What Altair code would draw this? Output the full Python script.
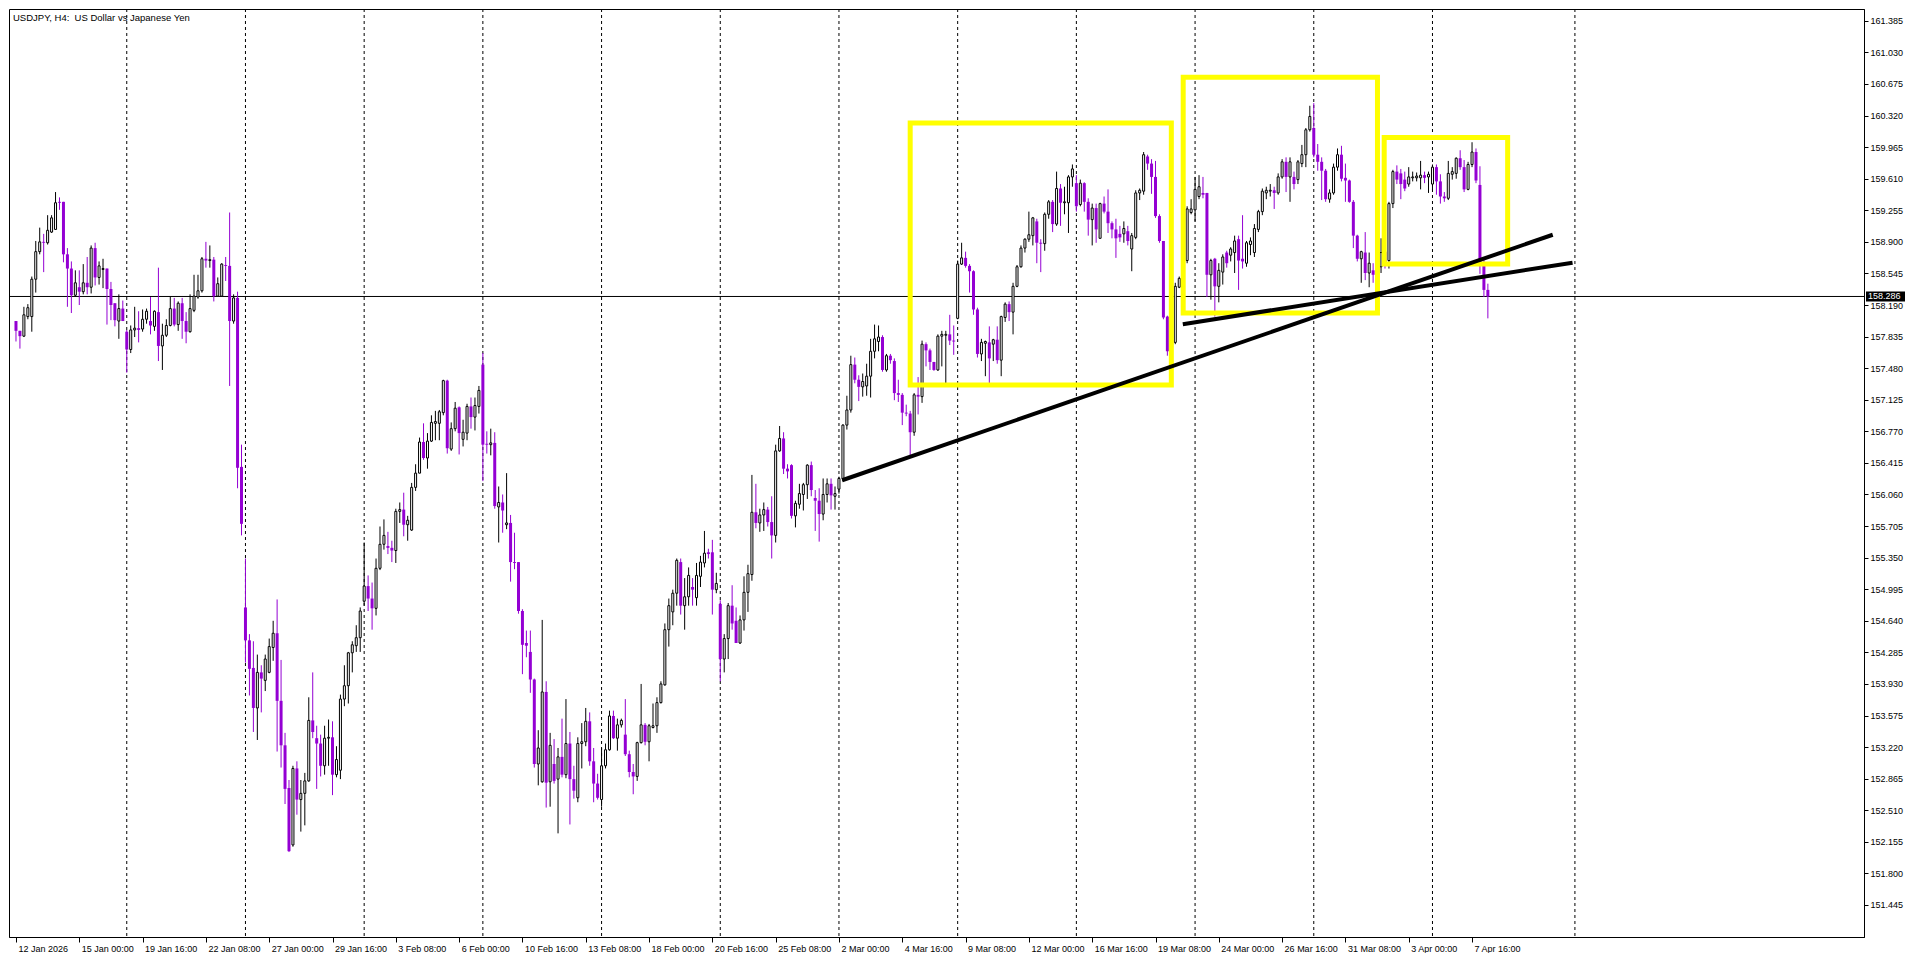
import altair as alt
import pandas as pd

# ---------------- data ----------------
FIRST_INDEX = 2  # bar index (H4 bars counted from 12 Jan 2026 00:00)

opens = [
158.01,157.90,157.84,158.06,158.06,158.48,158.79,158.90,158.89,159.01,
159.04,159.35,159.35,158.76,158.60,158.30,158.39,158.34,158.44,158.39,
158.83,158.50,158.59,158.60,158.37,158.21,158.01,158.15,157.89,157.69,
157.91,157.93,157.92,158.03,158.01,157.95,158.11,157.73,157.85,157.96,
158.15,157.97,158.21,158.01,157.89,158.13,158.28,158.35,158.71,158.69,
158.70,158.29,158.29,158.64,158.63,158.01,158.27,156.37,154.79,154.42,
154.11,153.66,154.06,153.97,154.06,154.34,154.50,153.74,153.24,152.76,
152.12,152.98,152.63,152.70,152.84,153.52,153.32,153.26,153.01,153.32,
153.33,152.91,152.96,153.76,153.91,154.28,154.36,154.45,154.86,155.03,
154.89,154.78,155.23,155.50,155.48,155.46,155.43,155.87,155.89,155.72,
155.66,156.14,156.30,156.65,156.47,156.66,156.86,156.86,156.98,157.34,
156.57,156.80,157.04,156.68,156.75,157.05,156.93,157.05,157.52,156.63,
156.62,156.64,155.92,155.97,155.72,155.74,155.30,155.30,154.75,154.39,
154.29,153.98,153.03,152.83,153.84,152.83,153.03,152.86,153.11,152.91,
153.26,152.86,152.65,153.26,153.28,153.51,153.06,152.81,152.63,153.01,
153.19,153.57,153.32,153.47,153.36,153.14,152.94,152.89,153.27,153.47,
153.28,153.44,153.46,153.72,153.92,154.54,154.74,154.95,155.30,154.81,
154.91,155.02,154.90,155.14,155.29,155.41,155.41,154.99,154.83,154.21,
154.44,154.81,154.64,154.39,154.65,154.96,155.16,155.86,155.74,155.83,
155.89,155.75,155.60,156.55,156.69,156.35,156.39,155.82,155.95,156.06,
156.17,156.39,156.02,155.99,155.84,156.06,156.18,156.04,156.12,156.24,
156.84,157.01,157.52,157.35,157.27,157.28,157.39,157.67,157.78,157.83,
157.46,157.62,157.56,157.20,157.18,156.98,156.97,156.76,157.18,157.16,
157.75,157.68,157.55,157.46,157.84,157.85,157.86,157.79,158.04,158.65,
158.72,158.63,158.57,158.14,157.64,157.76,157.77,157.75,157.80,157.57,
158.05,158.20,158.11,158.40,158.62,158.83,158.93,158.97,159.13,158.89,
158.88,159.21,159.35,159.10,159.50,159.34,159.34,159.63,159.56,159.32,
159.56,159.35,159.15,159.28,158.94,159.33,159.24,159.11,159.04,158.99,
158.99,159.02,158.82,158.95,159.45,159.47,159.86,159.78,159.63,159.19,
158.91,158.06,157.63,157.77,158.39,158.47,158.69,159.23,159.26,159.41,
159.45,159.45,158.53,158.71,158.40,158.56,158.78,158.75,158.78,158.93,
158.71,158.66,158.87,158.78,159.04,159.24,159.45,159.47,159.48,159.45,
159.63,159.80,159.63,159.63,159.60,159.78,159.88,160.16,160.18,159.88,
159.80,159.70,159.38,159.45,159.74,159.88,159.62,159.59,159.35,158.97,
158.71,158.78,158.55,158.58,158.51,158.62,158.79,158.69,159.33,159.69,
159.67,159.60,159.55,159.62,159.62,159.62,159.65,159.63,159.55,159.74,
159.58,159.41,159.39,159.66,159.67,159.84,159.74,159.49,159.77,159.91,
159.54,158.66,158.36]

highs = [
158.01,157.90,158.17,158.20,158.51,158.91,159.06,158.99,159.20,159.20,
159.46,159.40,159.35,158.83,158.68,158.58,158.58,158.65,158.73,158.86,
158.89,158.68,158.71,158.60,158.45,158.21,158.31,158.24,157.91,157.96,
158.17,158.12,158.14,158.15,158.28,158.13,158.61,157.98,158.03,158.28,
158.27,158.23,158.27,158.11,158.31,158.53,158.53,158.73,158.90,158.86,
158.73,158.50,158.66,158.73,159.23,158.31,158.34,156.62,155.34,154.49,
154.41,154.26,154.14,154.26,154.44,154.64,154.88,154.20,153.38,152.85,
153.01,153.06,152.85,152.93,153.78,154.06,153.46,153.36,153.46,153.53,
153.51,153.23,153.81,154.14,154.29,154.41,154.59,154.79,155.52,155.15,
155.07,155.34,155.70,155.78,155.64,155.54,155.90,155.97,156.08,155.82,
156.19,156.40,156.70,156.86,156.75,156.95,157.00,157.01,157.35,157.35,
156.87,157.10,157.05,156.90,157.08,157.15,157.15,157.28,157.65,156.77,
156.80,156.76,156.15,156.06,156.30,155.83,155.63,155.30,154.77,154.53,
154.53,153.99,153.41,154.65,153.96,153.38,153.31,153.21,153.54,153.76,
153.39,153.01,153.33,153.49,153.66,153.61,153.21,152.92,153.21,153.26,
153.63,153.63,153.54,153.54,153.76,153.18,153.03,153.28,153.93,153.49,
153.48,153.71,153.78,153.96,154.61,154.89,154.99,155.34,155.34,155.12,
155.24,155.12,155.29,155.37,155.65,155.45,155.55,155.18,154.87,154.49,
154.84,155.04,154.79,154.70,155.14,155.27,156.28,156.18,155.90,155.97,
155.92,156.04,156.62,156.83,156.76,156.40,156.40,155.99,156.18,156.19,
156.40,156.43,156.11,156.13,156.24,156.24,156.24,156.15,156.26,156.85,
157.17,157.62,157.60,157.40,157.42,157.53,157.81,157.97,157.96,157.85,
157.64,157.64,157.59,157.35,157.20,157.07,157.00,157.20,157.38,157.79,
157.77,157.70,157.55,157.86,157.90,157.90,158.08,157.96,158.69,158.89,
158.79,158.65,158.58,158.16,157.81,157.79,157.95,157.81,157.95,158.07,
158.22,158.23,158.44,158.64,158.86,158.94,159.24,159.18,159.16,158.93,
159.23,159.37,159.37,159.69,159.55,159.52,159.65,159.77,159.65,159.60,
159.57,159.39,159.33,159.33,159.34,159.41,159.49,159.13,159.16,159.08,
159.13,159.08,159.00,159.48,159.50,159.91,159.88,159.83,159.81,159.21,
158.91,158.07,158.00,158.44,158.51,158.90,159.30,159.38,159.63,159.65,
159.63,159.45,158.71,158.72,158.66,158.76,158.80,158.84,158.97,158.97,
159.20,158.91,158.95,159.10,159.26,159.50,159.52,159.55,159.52,159.67,
159.83,159.85,159.85,159.69,159.82,159.99,160.18,160.43,160.46,160.00,
159.85,159.72,159.49,159.78,159.95,159.98,159.78,159.60,159.37,158.98,
158.80,159.01,158.78,158.66,158.75,158.94,158.80,159.35,159.71,159.76,
159.72,159.69,159.74,159.69,159.68,159.81,159.69,159.69,159.77,159.77,
159.66,159.46,159.81,159.74,159.85,159.93,159.82,159.80,160.02,159.95,
159.75,158.73,158.43]

lows = [
157.78,157.70,157.83,158.03,157.89,158.33,158.76,158.56,158.87,159.00,
159.04,159.26,158.67,158.17,158.10,158.28,158.19,158.31,158.31,158.32,
158.41,158.42,158.38,157.97,158.02,157.95,157.81,158.01,157.43,157.65,
157.83,157.77,157.89,157.98,157.86,157.90,157.56,157.46,157.83,157.95,
157.95,157.90,157.81,157.76,157.88,158.11,158.26,158.33,158.61,158.61,
158.23,158.28,158.28,158.46,157.28,157.98,156.13,155.60,154.17,153.80,
153.39,153.30,153.61,153.85,154.05,154.19,153.17,152.99,152.58,152.04,
152.10,152.46,152.27,152.34,152.83,153.32,152.75,152.89,152.91,153.01,
152.68,152.88,152.86,153.68,153.71,154.06,154.29,154.29,154.81,154.75,
154.54,154.70,155.21,155.44,155.39,155.30,155.29,155.74,155.59,155.54,
155.65,156.10,156.30,156.45,156.35,156.65,156.67,156.67,156.95,156.52,
156.55,156.77,156.51,156.60,156.67,156.80,156.78,156.97,156.21,156.52,
156.50,155.90,155.52,155.63,155.67,155.08,155.22,154.72,154.04,154.23,
153.83,152.99,152.79,152.82,152.54,152.55,152.81,152.25,152.88,152.87,
152.35,152.64,152.60,152.98,153.23,153.01,152.60,152.63,152.55,152.98,
153.18,153.31,153.18,153.44,153.12,152.88,152.69,152.84,153.26,153.24,
153.06,153.43,153.38,153.71,153.91,154.35,154.59,154.81,154.71,154.54,
154.81,154.81,154.81,155.02,155.24,155.34,154.71,154.95,153.96,154.06,
154.21,154.54,154.39,154.38,154.53,154.74,155.09,155.68,155.64,155.65,
155.70,155.34,155.52,156.54,156.29,156.24,155.79,155.69,155.90,155.88,
156.01,156.04,155.65,155.53,155.77,155.97,155.89,155.89,156.07,156.21,
156.79,156.98,157.31,157.11,157.16,157.17,157.15,157.59,157.67,157.44,
157.44,157.53,157.12,157.10,156.84,156.94,156.50,156.72,156.96,157.09,
157.50,157.46,157.45,157.45,157.50,157.30,157.74,157.63,158.03,158.64,
158.61,158.33,158.08,157.60,157.56,157.39,157.27,157.56,157.53,157.39,
158.00,158.01,157.86,158.39,158.61,158.78,158.90,158.86,158.66,158.56,
158.80,159.16,159.01,159.08,159.08,159.21,159.00,159.52,159.24,159.30,
159.24,158.97,158.86,158.89,158.94,159.22,159.00,158.94,158.72,158.90,
158.89,158.86,158.57,158.93,159.37,159.43,159.71,159.44,159.17,158.89,
158.03,157.62,157.55,157.75,158.38,158.44,158.66,159.21,159.13,159.38,
159.39,158.28,158.25,158.06,158.22,158.42,158.61,158.68,158.55,158.36,
158.60,158.62,158.75,158.73,159.01,159.20,159.38,159.41,159.27,159.43,
159.61,159.46,159.35,159.49,159.55,159.74,159.74,160.14,159.85,159.70,
159.37,159.35,159.34,159.43,159.70,159.58,159.35,159.34,158.83,158.68,
158.44,158.47,158.39,158.44,158.44,158.55,158.60,158.60,159.28,159.55,
159.38,159.47,159.52,159.58,159.58,159.49,159.56,159.45,159.48,159.43,
159.33,159.35,159.37,159.60,159.61,159.71,159.46,159.48,159.74,159.56,
158.54,158.28,158.04]

closes = [
157.90,157.84,158.08,158.16,158.48,158.79,158.90,158.89,159.03,159.17,
159.34,159.34,158.76,158.60,158.30,158.44,158.34,158.44,158.39,158.83,
158.50,158.63,158.60,158.37,158.19,158.02,158.15,158.01,157.69,157.91,
157.93,157.91,158.03,158.12,157.96,158.12,157.73,157.85,157.96,158.15,
157.97,158.21,158.01,157.89,158.15,158.29,158.35,158.71,158.69,158.70,
158.29,158.43,158.65,158.63,158.01,158.27,156.36,155.73,154.42,154.10,
153.66,154.06,153.99,154.21,154.35,154.50,153.74,153.24,152.75,152.05,
152.98,152.63,152.70,152.84,153.52,153.39,153.26,153.01,153.32,153.33,
152.91,153.08,153.76,153.91,154.28,154.37,154.45,154.75,155.03,154.89,
154.78,155.23,155.50,155.60,155.46,155.43,155.87,155.89,155.72,155.77,
156.14,156.30,156.65,156.47,156.66,156.87,156.88,156.99,157.34,156.58,
156.80,157.03,156.75,156.76,157.05,156.93,157.06,157.23,156.62,156.62,
156.64,155.93,155.97,155.88,155.74,155.30,155.29,154.75,154.37,154.36,
153.98,153.03,153.21,153.84,152.82,153.24,152.84,153.11,152.91,153.26,
152.86,152.73,153.26,153.28,153.51,153.06,152.81,152.65,153.01,153.19,
153.57,153.32,153.47,153.52,153.14,152.94,152.89,153.27,153.47,153.28,
153.46,153.46,153.72,153.93,154.54,154.81,154.95,155.32,154.81,154.91,
155.15,154.99,155.15,155.30,155.40,155.39,154.99,155.06,154.21,154.44,
154.81,154.61,154.39,154.65,154.96,155.17,155.86,155.74,155.83,155.89,
155.75,155.60,156.55,156.69,156.35,156.32,155.82,155.96,156.07,156.17,
156.39,156.11,155.99,155.84,156.06,156.18,156.05,156.07,156.24,156.84,
157.01,157.52,157.35,157.27,157.33,157.39,157.67,157.81,157.83,157.46,
157.62,157.57,157.20,157.18,156.98,156.97,156.76,157.18,157.16,157.75,
157.68,157.55,157.46,157.84,157.86,157.86,157.79,157.78,158.65,158.72,
158.63,158.57,158.14,157.64,157.77,157.78,157.59,157.80,157.57,158.06,
158.20,158.11,158.40,158.62,158.83,158.93,158.98,159.17,158.89,158.88,
159.21,159.35,159.10,159.50,159.34,159.35,159.63,159.72,159.30,159.56,
159.35,159.15,159.28,159.04,159.33,159.24,159.11,159.04,158.94,158.95,
159.05,158.91,158.97,159.45,159.48,159.88,159.78,159.63,159.19,158.91,
158.05,157.67,157.86,158.40,158.49,158.71,159.27,159.27,159.49,159.52,
159.43,158.53,158.69,158.40,158.58,158.73,158.66,158.82,158.91,158.69,
158.68,158.89,158.91,159.05,159.24,159.47,159.48,159.48,159.45,159.63,
159.80,159.63,159.80,159.55,159.80,159.88,160.16,160.31,159.88,159.80,
159.70,159.38,159.45,159.74,159.88,159.61,159.59,159.35,158.97,158.71,
158.79,158.55,158.66,158.53,158.64,158.78,158.66,159.33,159.69,159.60,
159.55,159.50,159.63,159.63,159.64,159.65,159.62,159.66,159.74,159.58,
159.41,159.39,159.67,159.69,159.84,159.74,159.49,159.77,159.91,159.59,
158.66,158.36,158.286]

CURRENT_PRICE = 158.286
CURRENT_LABEL = "158.286"
TITLE = "USDJPY, H4:\u00a0 US Dollar vs Japanese Yen"

x_label_idx = [2, 18, 34, 50, 66, 82, 98, 114, 130, 146, 162, 178,
               194, 210, 226, 242, 258, 274, 290, 306, 322, 338, 354, 370]
x_labels = ["12 Jan 2026", "15 Jan 00:00", "19 Jan 16:00", "22 Jan 08:00",
            "27 Jan 00:00", "29 Jan 16:00", "3 Feb 08:00", "6 Feb 00:00",
            "10 Feb 16:00", "13 Feb 08:00", "18 Feb 00:00", "20 Feb 16:00",
            "25 Feb 08:00", "2 Mar 00:00", "4 Mar 16:00", "9 Mar 08:00",
            "12 Mar 00:00", "16 Mar 16:00", "19 Mar 08:00", "24 Mar 00:00",
            "26 Mar 16:00", "31 Mar 08:00", "3 Apr 00:00", "7 Apr 16:00"]
grid_idx = [30, 60, 90, 120, 150, 180, 210, 240, 270, 300, 330, 360, 396]
y_ticks = [151.445, 151.800, 152.155, 152.510, 152.865, 153.220, 153.575,
           153.930, 154.285, 154.640, 154.995, 155.350, 155.705, 156.060,
           156.415, 156.770, 157.125, 157.480, 157.835, 158.190, 158.545,
           158.900, 159.255, 159.610, 159.965, 160.320, 160.675, 161.030,
           161.385]

# yellow boxes: left/right bar index, top/bottom price
box_x1 = [228.0, 297.0, 347.8]
box_x2 = [294.0, 346.1, 379.0]
box_top = [160.235, 160.752, 160.072]
box_bot = [157.290, 158.100, 158.651]

# trend lines
tl_x1 = [210.8, 296.9]
tl_y1 = [156.220, 157.974]
tl_x2 = [390.4, 395.4]
tl_y2 = [158.980, 158.666]

# ---------------- build ----------------
assert len(opens) == len(highs) == len(lows) == len(closes)
n = len(closes)
df = pd.DataFrame({
    "i": list(range(FIRST_INDEX, FIRST_INDEX + n)),
    "o": opens, "h": highs, "l": lows, "c": closes,
})
df["dir"] = ["up" if c >= o else "down" for o, c in zip(opens, closes)]

W, H = 1855, 928
PURPLE = "#9400D3"
FONT = "Liberation Sans"

xs = alt.Scale(domain=[1.5, 467.8], nice=False, zero=False)
ys = alt.Scale(domain=[151.085, 161.518], nice=False, zero=False)

label_arr = "[" + ",".join("'" + s + "'" for s in x_labels) + "]"
x_axis = alt.Axis(values=x_label_idx,
                  labelExpr=label_arr + "[round((datum.value - 2) / 16)]",
                  grid=False, ticks=True, tickSize=5, tickColor="black",
                  domainColor="black", labelAlign="left", labelOffset=2,
                  labelPadding=2, labelFont=FONT, labelFontSize=9,
                  labelColor="black", labelOverlap=False, labelFlush=False,
                  title=None)
y_axis = alt.Axis(orient="right", values=y_ticks, format=".3f", grid=False,
                  tickSize=4, tickColor="black", domainColor="black",
                  labelPadding=2, labelFont=FONT, labelFontSize=9,
                  labelColor="black", labelOverlap=False, labelFlush=False,
                  title=None)


def X(field):
    return alt.X(field, scale=xs, axis=x_axis, title=None)


def Y(field):
    return alt.Y(field, scale=ys, axis=y_axis, title=None)


grid = alt.Chart(pd.DataFrame({"g": grid_idx})).mark_rule(
    color="black", strokeWidth=1, strokeDash=[3, 3]
).encode(x=X("g:Q"))

hline = alt.Chart(pd.DataFrame({"p": [CURRENT_PRICE]})).mark_rule(
    color="black", strokeWidth=1
).encode(y=Y("p:Q"))

color_scale = alt.Scale(domain=["up", "down"], range=["black", PURPLE])

wicks = alt.Chart(df).mark_rule(strokeWidth=1, clip=True).encode(
    x=X("i:Q"),
    y=Y("l:Q"),
    y2="h:Q",
    color=alt.Color("dir:N", scale=color_scale, legend=None),
)

bodies_up = alt.Chart(df).transform_filter(alt.datum.dir == "up").mark_bar(
    size=2, fill="white", stroke="black", strokeWidth=1, clip=True
).encode(x=X("i:Q"), y=Y("o:Q"), y2="c:Q")

bodies_down = alt.Chart(df).transform_filter(alt.datum.dir == "down").mark_bar(
    size=3, fill=PURPLE, strokeWidth=0, clip=True
).encode(x=X("i:Q"), y=Y("o:Q"), y2="c:Q")

boxes = alt.Chart(pd.DataFrame({"x1": box_x1, "x2": box_x2,
                                "t": box_top, "b": box_bot})).mark_rect(
    filled=False, color="#FFFF00", strokeWidth=5
).encode(x=X("x1:Q"), x2="x2:Q", y=Y("t:Q"), y2="b:Q")

tlines = alt.Chart(pd.DataFrame({"x1": tl_x1, "y1": tl_y1,
                                 "x2": tl_x2, "y2": tl_y2})).mark_rule(
    color="black", strokeWidth=4, strokeCap="butt"
).encode(x=X("x1:Q"), x2="x2:Q", y=Y("y1:Q"), y2="y2:Q")

title = alt.Chart(pd.DataFrame({"t": [TITLE]})).mark_text(
    align="left", baseline="top", font=FONT, fontSize=9.5, color="black"
).encode(x=alt.value(4), y=alt.value(4), text="t:N")

plabel_df = pd.DataFrame({"p": [CURRENT_PRICE], "t": [CURRENT_LABEL]})
plabel_box = alt.Chart(plabel_df).mark_rect(
    color="black", yOffset=-5, y2Offset=5
).encode(
    x=alt.value(W + 2), x2=alt.value(W + 41),
    y=Y("p:Q"), y2="p:Q",
)
plabel_txt = alt.Chart(plabel_df).mark_text(
    align="left", baseline="middle", font=FONT, fontSize=9, color="white"
).encode(x=alt.value(W + 4), y=Y("p:Q"), text="t:N")

chart = alt.layer(
    grid, hline, wicks, bodies_up, bodies_down, boxes, tlines, title,
    plabel_box, plabel_txt
).properties(
    width=W, height=H, padding=0, background="white"
).configure_view(
    stroke="black", strokeWidth=1
)

chart.save("out.html", embed_options={"renderer": "svg", "actions": False})
